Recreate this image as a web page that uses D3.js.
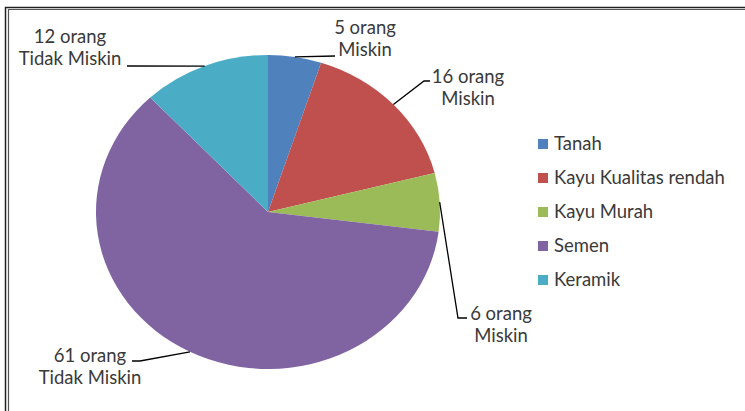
<!DOCTYPE html>
<html>
<head>
<meta charset="utf-8">
<script src="https://cdn.jsdelivr.net/npm/d3@7"></script>
<style>
  body { margin: 0; background: #fff; }
  svg { display: block; }
  text { font-family: Lato, "Open Sans", sans-serif; fill: #3a3a3a; }
</style>
</head>
<body>
<svg id="chart"></svg>
<script>
//// DATA
const categories = ["Tanah", "Kayu Kualitas rendah", "Kayu Murah", "Semen", "Keramik"];
const counts = [5, 16, 6, 61, 12];
const labelLines = [
    ["5 orang", "Miskin"],
    ["16 orang", "Miskin"],
    ["6 orang", "Miskin"],
    ["61 orang", "Tidak Miskin"],
    ["12 orang", "Tidak Miskin"],
];
const colors = ["#4f81bd", "#c0504d", "#9bbb59", "#8064a2", "#4bacc6"];

//// SETTINGS
const width = 745;
const height = 411;
const center = [268, 212];
const rx = 172;
const ry = 157;
const fontSize = 18.5;

// label placement: leader bend points relative to center, text anchor point
const labelLayout = [
    { bends: [[67, -156]], text: [365, 34], anchor: "middle" },
    { bends: [[156, -131], [162, -131]], text: [468, 83], anchor: "middle" },
    { bends: [[190, 106], [199, 106]], text: [501, 320], anchor: "middle" },
    { bends: [[-128, 149], [-136, 149]], text: [90, 362], anchor: "middle" },
    { bends: [[-141, -146]], text: [70, 43], anchor: "middle" },
];

const svg = d3.select("#chart").attr("width", width).attr("height", height);

// frame (double line on top/left)
svg.append("path")
    .attr("d", `M5.5,${height} V7.5 H${width}`)
    .attr("fill", "none").attr("stroke", "#222").attr("stroke-width", 1.5);
svg.append("path")
    .attr("d", `M8.5,${height} V9.5 H${width}`)
    .attr("fill", "none").attr("stroke", "#555").attr("stroke-width", 1.2);

//// PIE
const pie = d3.pie().sort(null).value(d => d);
const arcs = pie(counts);

// draw on a unit circle, then stretch to the ellipse
const arc = d3.arc().innerRadius(0).outerRadius(1);
const pieGroup = svg.append("g")
    .attr("transform", `translate(${center[0]},${center[1]}) scale(${rx},${ry})`);

pieGroup.selectAll("path")
    .data(arcs)
    .enter()
    .append("path")
    .attr("d", arc)
    .attr("fill", (d, i) => colors[i]);

//// LABELS
const labelGroup = svg.append("g");
arcs.forEach(function (d, i) {
    const mid = (d.startAngle + d.endAngle) / 2;
    const start = [center[0] + rx * Math.sin(mid), center[1] - ry * Math.cos(mid)];
    const layout = labelLayout[i];
    const pts = [start].concat(layout.bends.map(p => [center[0] + p[0], center[1] + p[1]]));

    labelGroup.append("path")
        .attr("d", d3.line()(pts))
        .attr("fill", "none")
        .attr("stroke", "#000")
        .attr("stroke-width", 1.3);

    const t = labelGroup.append("text")
        .attr("x", layout.text[0])
        .attr("y", layout.text[1])
        .attr("text-anchor", layout.anchor)
        .style("font-size", fontSize + "px");
    labelLines[i].forEach(function (line, j) {
        t.append("tspan")
            .attr("x", layout.text[0])
            .attr("dy", j === 0 ? 0 : 22)
            .text(line);
    });
});

//// LEGEND
const legendY = d3.scalePoint().domain(categories).range([144, 280]);
const legend = svg.append("g")
    .selectAll("g")
    .data(categories)
    .enter()
    .append("g")
    .attr("transform", d => `translate(538,${legendY(d)})`);

legend.append("rect")
    .attr("x", 0).attr("y", -5)
    .attr("width", 10).attr("height", 10)
    .attr("fill", (d, i) => colors[i]);

legend.append("text")
    .attr("x", 16)
    .attr("y", 6)
    .style("font-size", fontSize + "px")
    .text(d => d);
</script>
</body>
</html>
